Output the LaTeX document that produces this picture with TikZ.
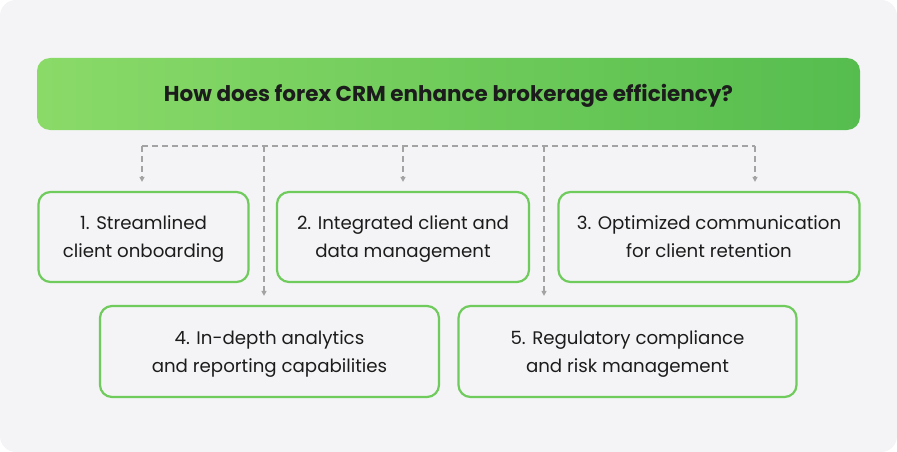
\documentclass[tikz,border=0pt]{standalone}
\usepackage{fontspec}
\setmainfont{Poppins}
\usetikzlibrary{arrows.meta,calc}
\definecolor{bgray}{HTML}{F4F4F6}
\definecolor{gborder}{HTML}{6FCB5C}
\definecolor{gdark}{HTML}{55BD4E}
\definecolor{glight}{HTML}{8ADA68}
\definecolor{dline}{HTML}{A3A3A3}
\definecolor{txt}{HTML}{1C1C1C}
\tikzset{
  itembox/.style={draw=gborder, line width=2.2pt, rounded corners=12pt, fill=bgray,
    inner sep=0pt, align=center, text=txt, font=\fontsize{18.2}{28}\selectfont,
    text height=41pt, text depth=0pt},
  titlebox/.style={rounded corners=13pt, inner sep=0pt, text=txt,
    font=\fontsize{21.5}{24}\selectfont\bfseries, shading=axis, shading angle=70,
    left color=glight, right color=gdark, text height=15pt, text depth=0pt},
  dashline/.style={draw=dline, line width=1.3pt, dash pattern=on 6pt off 4pt},
  dasharrow/.style={dashline, -{Triangle[length=5pt,width=5pt]}, shorten >=9pt}
}
\begin{document}
\begin{tikzpicture}[x=1pt,y=-1pt]
\useasboundingbox (0,0) rectangle (897,452);
\fill[white] (0,0) rectangle (897,452);
\fill[bgray, rounded corners=16pt] (0,0) rectangle (897,452);
\node[titlebox, minimum width=823pt, minimum height=72pt] (t) at (448.5,94) {How does forex CRM enhance brokerage efficiency?};
\node[itembox, minimum width=210pt, minimum height=90pt] (b1) at (143.5,237) {1. Streamlined\\client onboarding};
\node[itembox, minimum width=252pt, minimum height=90pt] (b2) at (403,237) {2. Integrated client and\\data management};
\node[itembox, minimum width=301pt, minimum height=90pt] (b3) at (709,237) {3. Optimized communication\\for client retention};
\node[itembox, minimum width=339pt, minimum height=91pt] (b4) at (269.5,351.5) {4. In-depth analytics\\and reporting capabilities};
\node[itembox, minimum width=338pt, minimum height=91pt] (b5) at (627.5,351.5) {5. Regulatory compliance\\and risk management};
\coordinate (h1) at (142,146);
\coordinate (h4) at (264,146);
\coordinate (h2) at (403,146);
\coordinate (h5) at (544,146);
\coordinate (h3) at (755,146);
\draw[dashline] (h1) -- (h3);
\draw[dasharrow] (h1) -- (h1 |- b1.north);
\draw[dasharrow] (h2) -- (h2 |- b2.north);
\draw[dasharrow] (h3) -- (h3 |- b3.north);
\draw[dasharrow] (h4) -- (h4 |- b4.north);
\draw[dasharrow] (h5) -- (h5 |- b5.north);
\end{tikzpicture}
\end{document}
